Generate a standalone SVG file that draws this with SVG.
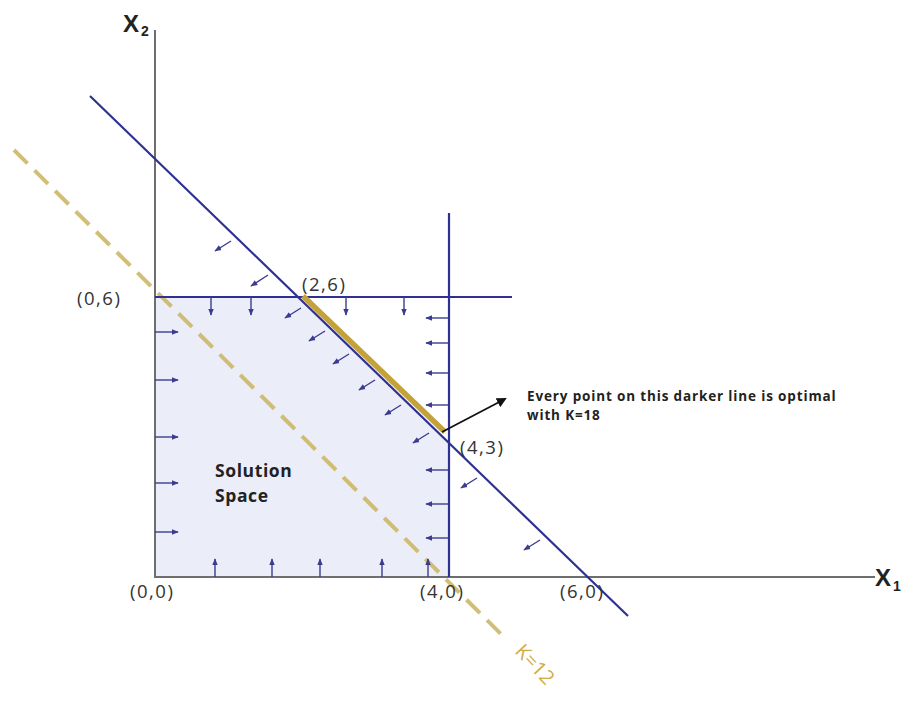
<svg xmlns="http://www.w3.org/2000/svg" width="907" height="702" viewBox="0 0 907 702">
<style>
.axis{stroke:#6e6e6e;stroke-width:2;fill:none}
.con{stroke:#2e3192;stroke-width:2.2;fill:none}
.arr{stroke:#3b3b8f;stroke-width:1.4;fill:none;marker-end:url(#ah)}
.lbl{font-family:"Open Sans","Liberation Sans",sans-serif;font-size:18.5px;letter-spacing:1.5px;fill:#333}
.bold{font-family:"Open Sans","Liberation Sans",sans-serif;font-weight:700;fill:#222}
.ax{font-family:"Liberation Sans","Open Sans",sans-serif;font-weight:700;fill:#222}
</style>
<defs>
<marker id="ah" viewBox="0 0 10 10" refX="9" refY="5" markerWidth="7" markerHeight="7" markerUnits="userSpaceOnUse" orient="auto"><path d="M0,1 L10,5 L0,9 Z" fill="#3b3b8f"/></marker>
<marker id="ahk" viewBox="0 0 10 10" refX="8" refY="5" markerWidth="10" markerHeight="10" markerUnits="userSpaceOnUse" orient="auto"><path d="M0,0 L10,5 L0,10 Z" fill="#111"/></marker>
</defs>
<rect width="907" height="702" fill="#ffffff"/>
<g id="solution-space">
<polygon points="155,297 301,297 449,441 449,577 155,577" fill="#ebedf8"/>
<text class="bold" font-size="17.5" letter-spacing="0.6" x="215" y="477">Solution</text>
<text class="bold" font-size="17.5" letter-spacing="0.6" x="215" y="502">Space</text>
</g>
<g id="axes">
<line class="axis" x1="155" y1="30" x2="155" y2="578"/>
<line class="axis" x1="154" y1="577" x2="875" y2="577"/>
<text class="ax" font-size="24" x="123" y="32">X</text><text class="ax" font-size="14" x="141" y="36">2</text>
<text class="ax" font-size="24" x="875" y="586">X</text><text class="ax" font-size="14" x="893" y="591">1</text>
</g>
<g id="k12-line">
<line x1="14" y1="150" x2="503" y2="636" stroke="#cdb869" stroke-width="4" stroke-dasharray="19,10" opacity="0.9"/>
<text transform="translate(514,652) rotate(47)" font-family="Open Sans,Liberation Sans,sans-serif" font-size="20" fill="#d0ad48">K=12</text>
</g>
<g id="connectors">
<line class="con" x1="90" y1="96" x2="628" y2="616"/>
<line class="con" x1="155" y1="297" x2="512" y2="297"/>
<line class="con" x1="449" y1="213" x2="449" y2="577"/>
<line x1="303" y1="296" x2="445" y2="432" stroke="#c4a23a" stroke-width="5.5"/>
<line x1="442" y1="432" x2="505" y2="399" stroke="#111" stroke-width="1.8" marker-end="url(#ahk)"/>
</g>
<g id="constraint-arrows">
<line class="arr" x1="231" y1="241" x2="215" y2="251"/>
<line class="arr" x1="268" y1="275" x2="251" y2="286"/>
<line class="arr" x1="301" y1="308" x2="285" y2="318"/>
<line class="arr" x1="325" y1="331" x2="309" y2="341"/>
<line class="arr" x1="349" y1="354" x2="333" y2="364"/>
<line class="arr" x1="375" y1="380" x2="359" y2="390"/>
<line class="arr" x1="401" y1="405" x2="385" y2="415"/>
<line class="arr" x1="429" y1="433" x2="413" y2="443"/>
<line class="arr" x1="477" y1="478" x2="461" y2="488"/>
<line class="arr" x1="540" y1="540" x2="524" y2="550"/>
<line class="arr" x1="211" y1="297" x2="211" y2="315"/>
<line class="arr" x1="251" y1="297" x2="251" y2="315"/>
<line class="arr" x1="346" y1="297" x2="346" y2="315"/>
<line class="arr" x1="404" y1="297" x2="404" y2="315"/>
<line class="arr" x1="449" y1="318" x2="426" y2="318"/>
<line class="arr" x1="449" y1="343" x2="426" y2="343"/>
<line class="arr" x1="449" y1="373" x2="426" y2="373"/>
<line class="arr" x1="449" y1="405" x2="426" y2="405"/>
<line class="arr" x1="449" y1="470" x2="426" y2="470"/>
<line class="arr" x1="449" y1="504" x2="426" y2="504"/>
<line class="arr" x1="449" y1="538" x2="426" y2="538"/>
<line class="arr" x1="155" y1="332" x2="178" y2="332"/>
<line class="arr" x1="155" y1="380" x2="178" y2="380"/>
<line class="arr" x1="155" y1="437" x2="178" y2="437"/>
<line class="arr" x1="155" y1="483" x2="178" y2="483"/>
<line class="arr" x1="155" y1="532" x2="178" y2="532"/>
<line class="arr" x1="215" y1="577" x2="215" y2="559"/>
<line class="arr" x1="272" y1="577" x2="272" y2="559"/>
<line class="arr" x1="320" y1="577" x2="320" y2="559"/>
<line class="arr" x1="382" y1="577" x2="382" y2="559"/>
<line class="arr" x1="428" y1="577" x2="428" y2="559"/>
</g>
<g id="point-labels">
<text class="lbl" x="77" y="305">(0,6)</text>
<text class="lbl" x="302" y="291">(2,6)</text>
<text class="lbl" x="460" y="454">(4,3)</text>
<text class="lbl" x="130" y="598">(0,0)</text>
<text class="lbl" x="420" y="598">(4,0)</text>
<text class="lbl" x="560" y="598">(6,0)</text>
</g>
<g id="annotation">
<text class="bold" font-size="13.5" letter-spacing="0.85" x="527" y="401">Every point on this darker line is optimal</text>
<text class="bold" font-size="13.5" letter-spacing="0.85" x="527" y="420">with K=18</text>
</g>
</svg>
